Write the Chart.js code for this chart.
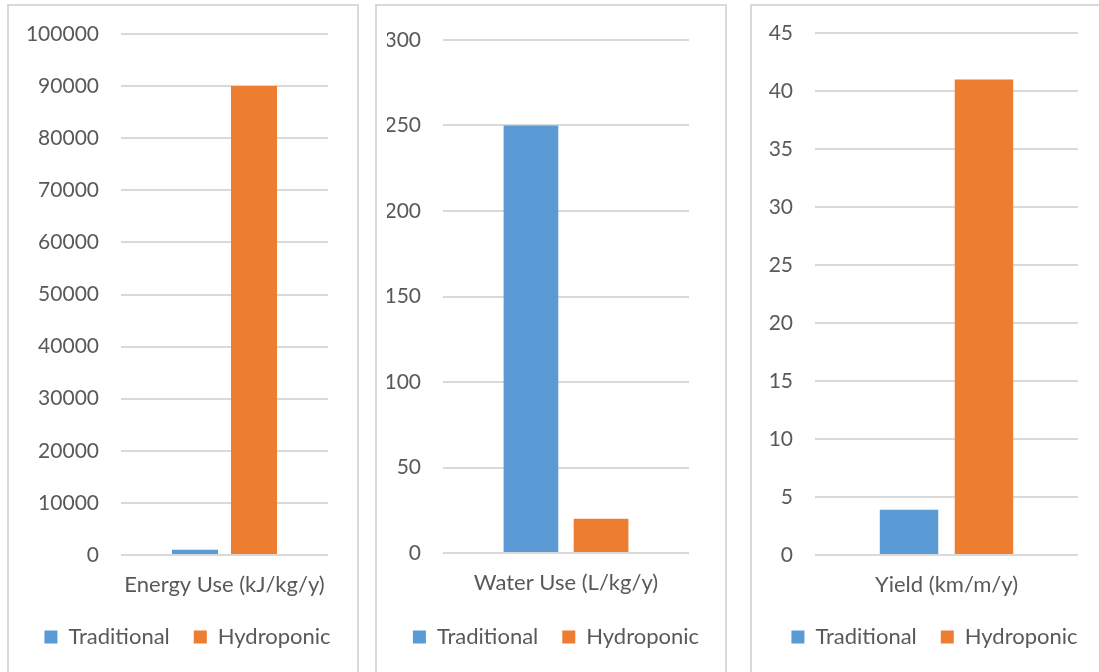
<!DOCTYPE html>
<html>
<head>
<meta charset="utf-8">
<script src="https://cdn.jsdelivr.net/npm/chart.js@4.4.1/dist/chart.umd.min.js"></script>
<style>
  html, body { margin: 0; padding: 0; background: #ffffff; overflow: hidden; }
  body { width: 1099px; height: 672px; position: relative; }
  .panel {
    position: absolute; top: 4px; height: 700px;
    box-sizing: border-box; border: 2px solid #d9d9d9; background: #ffffff;
  }
  .panel canvas { position: absolute; left: 0; top: 0; }
</style>
</head>
<body>
<div class="panel" style="left:7px;width:352px"><canvas id="c0" width="348" height="660"></canvas></div>
<div class="panel" style="left:375px;width:352px"><canvas id="c1" width="348" height="660"></canvas></div>
<div class="panel" style="left:750px;width:360px"><canvas id="c2" width="356" height="660"></canvas></div>
<script>
// Series and metrics
const seriesNames = ['Traditional', 'Hydroponic'];
const metrics = ['Energy Use (kJ/kg/y)', 'Water Use (L/kg/y)', 'Yield (km/m/y)'];
const traditional = [1000, 250, 3.9];
const hydroponic = [90000, 20, 41];
const axisMax = [100000, 300, 45];
const axisStep = [10000, 50, 5];

const seriesColors = ['#5b9bd5', '#ed7d31'];
const textColor = '#595959';
const fontFamily = 'Lato, "Open Sans", sans-serif';

// Per-panel frame: outer left padding, y-axis box width, right reserve,
// top padding, category-axis band height
const frames = [
  { padLeft: 9,  yWidth: 103, rightW: 29, padTop: 28, xHeight: 47 },
  { padLeft: 10, yWidth: 56,  rightW: 36, padTop: 34, xHeight: 49 },
  { padLeft: 9,  yWidth: 54,  rightW: 30, padTop: 27, xHeight: 47 }
];

metrics.forEach((metric, i) => {
  const f = frames[i];
  new Chart(document.getElementById('c' + i), {
    type: 'bar',
    data: {
      labels: [metric],
      datasets: [
        { label: seriesNames[0], data: [traditional[i]], backgroundColor: seriesColors[0] },
        { label: seriesNames[1], data: [hydroponic[i]], backgroundColor: seriesColors[1] }
      ]
    },
    options: {
      responsive: false,
      animation: false,
      categoryPercentage: 0.57,
      barPercentage: 0.78,
      layout: { padding: { left: f.padLeft, right: 0, top: f.padTop, bottom: 8 } },
      plugins: {
        legend: {
          position: 'bottom',
          labels: {
            color: textColor,
            font: { family: fontFamily, size: 22 },
            boxWidth: 13, boxHeight: 13, padding: 24
          }
        },
        tooltip: { enabled: false }
      },
      scales: {
        x: {
          grid: { display: false, drawTicks: false },
          border: { display: false },
          ticks: { color: textColor, font: { family: fontFamily, size: 22 }, padding: 17 },
          afterFit: (s) => { s.height = f.xHeight; s.paddingLeft = 0; s.paddingRight = 0; }
        },
        y: {
          min: 0, max: axisMax[i],
          grid: { color: '#d9d9d9', lineWidth: 2, drawTicks: false },
          border: { display: false },
          ticks: {
            stepSize: axisStep[i], color: textColor,
            font: { family: fontFamily, size: 21 }, padding: 22,
            callback: (v) => String(v)
          },
          afterFit: (s) => { s.width = f.yWidth; s.paddingTop = 0; s.paddingBottom = 0; }
        },
        // empty axis that reserves the white margin right of the plot
        yRight: {
          position: 'right',
          grid: { display: false, drawTicks: false },
          border: { display: false },
          ticks: { display: false },
          afterFit: (s) => { s.width = f.rightW; s.paddingTop = 0; s.paddingBottom = 0; }
        }
      }
    }
  });
});
</script>
</body>
</html>
